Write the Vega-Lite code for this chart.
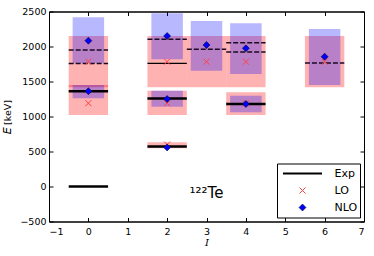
{
  "$schema": "https://vega.github.io/schema/vega-lite/v6.json",
  "width": 315,
  "height": 210,
  "autosize": {"type": "none"},
  "padding": {"left": 49, "top": 11.5, "right": 10, "bottom": 34.5},
  "background": "white",
  "config": {
    "view": {"stroke": "black", "strokeWidth": 1},
    "axis": {
      "grid": false,
      "domainColor": "black",
      "domainWidth": 1,
      "tickColor": "black",
      "tickSize": -4,
      "tickWidth": 1,
      "labelFont": "DejaVu Sans",
      "labelFontSize": 9.5,
      "labelColor": "black",
      "titleFont": "DejaVu Sans",
      "titleFontSize": 9.5,
      "titleColor": "black",
      "titleFontWeight": "normal"
    },
    "legend": {
      "orient": "bottom-right",
      "offset": 4,
      "strokeColor": "black",
      "fillColor": "white",
      "padding": 2.5,
      "clipHeight": 15,
      "rowPadding": 2,
      "labelFont": "DejaVu Sans",
      "labelFontSize": 11,
      "labelColor": "black",
      "labelOffset": 11.5,
      "symbolOffset": 2.5,
      "cornerRadius": 0
    }
  },
  "datasets": {
    "loband": [
      {"I": 0, "lo": 1417, "hi": 2150},
      {"I": 0, "lo": 1021, "hi": 1450},
      {"I": 2, "lo": 1417, "hi": 2150},
      {"I": 2, "lo": 1021, "hi": 1369},
      {"I": 2, "lo": 546, "hi": 631},
      {"I": 3, "lo": 1417, "hi": 2150},
      {"I": 4, "lo": 1417, "hi": 2150},
      {"I": 4, "lo": 1021, "hi": 1346},
      {"I": 6, "lo": 1417, "hi": 2150}
    ],
    "nloband": [
      {"I": 0, "lo": 1760, "hi": 2417},
      {"I": 0, "lo": 1260, "hi": 1450},
      {"I": 2, "lo": 1817, "hi": 2474},
      {"I": 2, "lo": 1140, "hi": 1369},
      {"I": 3, "lo": 1654, "hi": 2364},
      {"I": 4, "lo": 1607, "hi": 2331},
      {"I": 4, "lo": 1060, "hi": 1297},
      {"I": 6, "lo": 1450, "hi": 2250}
    ],
    "exp": [
      {"I": 0, "E": 0, "kind": "thick"},
      {"I": 0, "E": 1360, "kind": "thick"},
      {"I": 0, "E": 1758, "kind": "dashed"},
      {"I": 0, "E": 1950, "kind": "dashed"},
      {"I": 2, "E": 572, "kind": "thick"},
      {"I": 2, "E": 1258, "kind": "thick"},
      {"I": 2, "E": 1760, "kind": "thin"},
      {"I": 2, "E": 2105, "kind": "dashed"},
      {"I": 3, "E": 1962, "kind": "dashed"},
      {"I": 4, "E": 1180, "kind": "thick"},
      {"I": 4, "E": 1920, "kind": "dashed"},
      {"I": 4, "E": 2052, "kind": "dashed"},
      {"I": 6, "E": 1765, "kind": "dashed"}
    ],
    "calc": [
      {"I": 0, "E": 1190, "series": "LO"},
      {"I": 0, "E": 1783, "series": "LO"},
      {"I": 2, "E": 600, "series": "LO"},
      {"I": 2, "E": 1190, "series": "LO"},
      {"I": 2, "E": 1783, "series": "LO"},
      {"I": 3, "E": 1783, "series": "LO"},
      {"I": 4, "E": 1190, "series": "LO"},
      {"I": 4, "E": 1783, "series": "LO"},
      {"I": 6, "E": 1783, "series": "LO"},
      {"I": 0, "E": 2083, "series": "NLO"},
      {"I": 0, "E": 1362, "series": "NLO"},
      {"I": 2, "E": 2150, "series": "NLO"},
      {"I": 2, "E": 1250, "series": "NLO"},
      {"I": 2, "E": 558, "series": "NLO"},
      {"I": 3, "E": 2021, "series": "NLO"},
      {"I": 4, "E": 1974, "series": "NLO"},
      {"I": 4, "E": 1179, "series": "NLO"},
      {"I": 6, "E": 1854, "series": "NLO"}
    ],
    "label": [
      {"I": 3, "E": -170, "text": "¹²²Te"}
    ]
  },
  "layer": [
    {
      "data": {"name": "loband"},
      "mark": {"type": "rect", "xOffset": -19.69, "x2Offset": 19.69, "fill": "#ff0000", "fillOpacity": 0.3, "strokeWidth": 0},
      "encoding": {
        "x": {
          "field": "I", "type": "quantitative",
          "scale": {"domain": [-1, 7], "nice": false, "zero": false},
          "axis": {"orient": "bottom", "values": [-1, 0, 1, 2, 3, 4, 5, 6, 7], "title": "I", "titleFont": "DejaVu Serif", "titleFontStyle": "italic", "titleFontSize": 10, "labelPadding": 8.5, "titlePadding": 2}
        },
        "x2": {"field": "I"},
        "y": {
          "field": "lo", "type": "quantitative",
          "scale": {"domain": [-500, 2500], "nice": false, "zero": false},
          "axis": {"orient": "left", "values": [-500, 0, 500, 1000, 1500, 2000, 2500], "format": "d", "title": "𝐸 [keV]", "labelPadding": 7, "titlePadding": 7}
        },
        "y2": {"field": "hi"}
      }
    },
    {
      "data": {"name": "nloband"},
      "mark": {"type": "rect", "xOffset": -15.75, "x2Offset": 15.75, "fill": "#0000ff", "fillOpacity": 0.28, "strokeWidth": 0},
      "encoding": {
        "x": {"field": "I", "type": "quantitative", "axis": {"orient": "top", "values": [-1, 0, 1, 2, 3, 4, 5, 6, 7], "labels": false, "title": null}},
        "x2": {"field": "I"},
        "y": {"field": "lo", "type": "quantitative", "axis": {"orient": "right", "values": [-500, 0, 500, 1000, 1500, 2000, 2500], "labels": false, "title": null}},
        "y2": {"field": "hi"}
      }
    },
    {
      "data": {"name": "exp"},
      "transform": [{"filter": "datum.kind == 'thick'"}],
      "mark": {"type": "rule", "xOffset": -19.69, "x2Offset": 19.69, "stroke": "black", "strokeWidth": 2.5},
      "encoding": {
        "x": {"field": "I", "type": "quantitative", "axis": null},
        "x2": {"field": "I"},
        "y": {"field": "E", "type": "quantitative", "axis": null}
      }
    },
    {
      "data": {"name": "exp"},
      "transform": [{"filter": "datum.kind == 'thin'"}],
      "mark": {"type": "rule", "xOffset": -19.69, "x2Offset": 19.69, "stroke": "black", "strokeWidth": 1.3},
      "encoding": {
        "x": {"field": "I", "type": "quantitative", "axis": null},
        "x2": {"field": "I"},
        "y": {"field": "E", "type": "quantitative", "axis": null}
      }
    },
    {
      "data": {"name": "exp"},
      "transform": [{"filter": "datum.kind == 'dashed'"}],
      "mark": {"type": "rule", "xOffset": -19.69, "x2Offset": 19.69, "stroke": "#1a0a24", "strokeWidth": 1.5, "strokeDash": [5, 2]},
      "encoding": {
        "x": {"field": "I", "type": "quantitative", "axis": null},
        "x2": {"field": "I"},
        "y": {"field": "E", "type": "quantitative", "axis": null}
      }
    },
    {
      "data": {"name": "calc"},
      "mark": {"type": "point", "opacity": 1},
      "encoding": {
        "x": {"field": "I", "type": "quantitative", "axis": null},
        "y": {"field": "E", "type": "quantitative", "axis": null},
        "shape": {"field": "series", "type": "nominal", "scale": {"domain": ["Exp", "LO", "NLO"], "range": ["stroke", "M-1,-1L1,1M-1,1L1,-1", "diamond"]}, "legend": {"title": null}},
        "size": {"field": "series", "type": "nominal", "scale": {"type": "ordinal", "domain": ["Exp", "LO", "NLO"], "range": [1521, 36, 49]}, "legend": {"title": null}},
        "fill": {"field": "series", "type": "nominal", "scale": {"domain": ["Exp", "LO", "NLO"], "range": ["transparent", "transparent", "#0000ff"]}, "legend": {"title": null}},
        "stroke": {"field": "series", "type": "nominal", "scale": {"domain": ["Exp", "LO", "NLO"], "range": ["#000000", "#ff4040", "#000000"]}, "legend": {"title": null}},
        "strokeWidth": {"field": "series", "type": "nominal", "scale": {"type": "ordinal", "domain": ["Exp", "LO", "NLO"], "range": [2, 1, 0.5]}, "legend": {"title": null}}
      }
    },
    {
      "data": {"name": "label"},
      "mark": {"type": "text", "font": "DejaVu Sans", "fontSize": 15, "align": "center", "baseline": "alphabetic", "color": "black"},
      "encoding": {
        "x": {"field": "I", "type": "quantitative", "axis": null},
        "y": {"field": "E", "type": "quantitative", "axis": null},
        "text": {"field": "text"}
      }
    }
  ],
  "resolve": {"axis": {"x": "independent", "y": "independent"}}
}
